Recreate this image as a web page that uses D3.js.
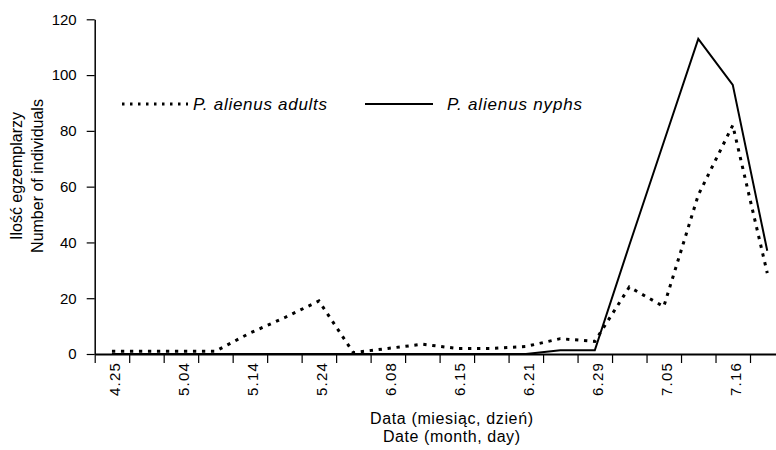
<!DOCTYPE html>
<html>
<head>
<meta charset="utf-8">
<script src="https://cdn.jsdelivr.net/npm/d3@7"></script>
<style>
    body { margin: 0; background: #fff; }
    svg { display: block; font-family: Arial, "Liberation Sans", sans-serif; }
</style>
</head>
<body>
<div id="chart"></div>
<script>

// sampling dates, only every other one carries a label
const dates = ["4.25", "", "5.04", "", "5.14", "", "5.24", "", "6.08", "", "6.15", "", "6.21", "", "6.29", "", "7.05", "", "7.16", ""];
const adults = [1, 1, 1, 1, 7.5, 13, 19, 0.5, 2, 3.5, 2, 2, 2.7, 5.5, 4.5, 24, 17, 57, 82, 29];
const nymphs = [0, 0, 0, 0, 0, 0, 0, 0, 0, 0, 0, 0, 0, 1.3, 1.3, 39, 76, 113, 96.5, 37];
const yTicks = [0, 20, 40, 60, 80, 100, 120];
const seriesNames = ["P. alienus adults", "P. alienus nyphs"];
const yTitle = ["Ilość egzemplarzy", "Number of individuals"];
const xTitle = ["Data (miesiąc, dzień)", "Date (month, day)"];

const width = 776, height = 450;
const margin = {top: 19.3, left: 94.7, bottom: 96};
const plotBottom = height - margin.bottom;   // x axis line
const plotRight = 784.5;                     // plot runs a bit past the picture edge

const svg = d3.select("#chart").append("svg")
    .attr("width", width)
    .attr("height", height);

// scales
const x = d3.scaleBand()
    .domain(dates.map((d, i) => i))
    .range([margin.left, plotRight]);

const xEdge = d3.scaleLinear()
    .domain([0, dates.length])
    .range([margin.left, plotRight]);

const y = d3.scaleLinear()
    .domain([0, 120])
    .range([plotBottom, margin.top]);

// y axis
const yAxis = svg.append("g")
    .attr("transform", "translate(" + margin.left + ",0)")
    .call(d3.axisLeft(y).tickValues(yTicks).tickSize(8).tickSizeOuter(0).tickPadding(10));
yAxis.selectAll("text").attr("font-size", 15).attr("fill", "#000").attr("font-family", null);
yAxis.select(".domain").attr("stroke", "#000").attr("stroke-width", 1.5);
yAxis.selectAll(".tick line").attr("stroke", "#000").attr("stroke-width", 1.2);

// x axis: tick marks sit between categories
const xTickAxis = svg.append("g")
    .attr("transform", "translate(0," + plotBottom + ")")
    .call(d3.axisBottom(xEdge).tickValues(d3.range(dates.length + 1)).tickSize(9).tickSizeOuter(0).tickFormat(""));
xTickAxis.select(".domain").attr("stroke", "#000").attr("stroke-width", 2);
xTickAxis.selectAll(".tick line").attr("stroke", "#000").attr("stroke-width", 1.2);

// x labels, rotated, centred on their category
const xLabelAxis = svg.append("g")
    .attr("transform", "translate(0," + plotBottom + ")")
    .call(d3.axisBottom(x).tickSize(0).tickFormat(i => dates[i]));
xLabelAxis.select(".domain").remove();
xLabelAxis.selectAll("text")
    .attr("font-size", 15)
    .attr("font-family", null)
    .attr("fill", "#000")
    .attr("letter-spacing", 1.2)
    .attr("text-anchor", "end")
    .attr("dy", null)
    .attr("y", null)
    .attr("transform", "translate(3,8) rotate(-90)")
    .attr("dominant-baseline", "central");

// series lines
const line = d3.line()
    .x((d, i) => x(i) + x.bandwidth() / 2)
    .y(d => y(d));

svg.append("path")
    .datum(nymphs)
    .attr("d", line)
    .attr("fill", "none")
    .attr("stroke", "#000")
    .attr("stroke-width", 2)
    .attr("stroke-linejoin", "miter");

svg.append("path")
    .datum(adults)
    .attr("d", line)
    .attr("fill", "none")
    .attr("stroke", "#000")
    .attr("stroke-width", 3)
    .attr("stroke-dasharray", "3.3,5.7");

// legend
const legend = svg.append("g").attr("font-size", 17).attr("font-style", "italic");
legend.append("line")
    .attr("x1", 122).attr("x2", 188).attr("y1", 104).attr("y2", 104)
    .attr("stroke", "#000").attr("stroke-width", 3).attr("stroke-dasharray", "2.5,5.5");
legend.append("text")
    .attr("x", 193).attr("y", 110)
    .attr("textLength", 134).attr("lengthAdjust", "spacing")
    .text(seriesNames[0]);
legend.append("line")
    .attr("x1", 365).attr("x2", 433).attr("y1", 104).attr("y2", 104)
    .attr("stroke", "#000").attr("stroke-width", 2);
legend.append("text")
    .attr("x", 447).attr("y", 110)
    .attr("textLength", 135).attr("lengthAdjust", "spacing")
    .text(seriesNames[1]);

// axis titles
const yTitleG = svg.append("g")
    .attr("transform", "translate(0,176) rotate(-90)")
    .attr("font-size", 16)
    .attr("text-anchor", "middle");
yTitleG.selectAll("text")
    .data(yTitle)
    .join("text")
    .attr("x", 0)
    .attr("y", (d, i) => 22 + i * 20.5)
    .text(d => d);

svg.append("g")
    .attr("font-size", 16)
    .attr("text-anchor", "middle")
    .selectAll("text")
    .data(xTitle)
    .join("text")
    .attr("x", 451.5)
    .attr("y", (d, i) => 424 + i * 17.5)
    .attr("textLength", (d, i) => i === 0 ? 163 : 137)
    .attr("lengthAdjust", "spacing")
    .text(d => d);

</script>
</body>
</html>
